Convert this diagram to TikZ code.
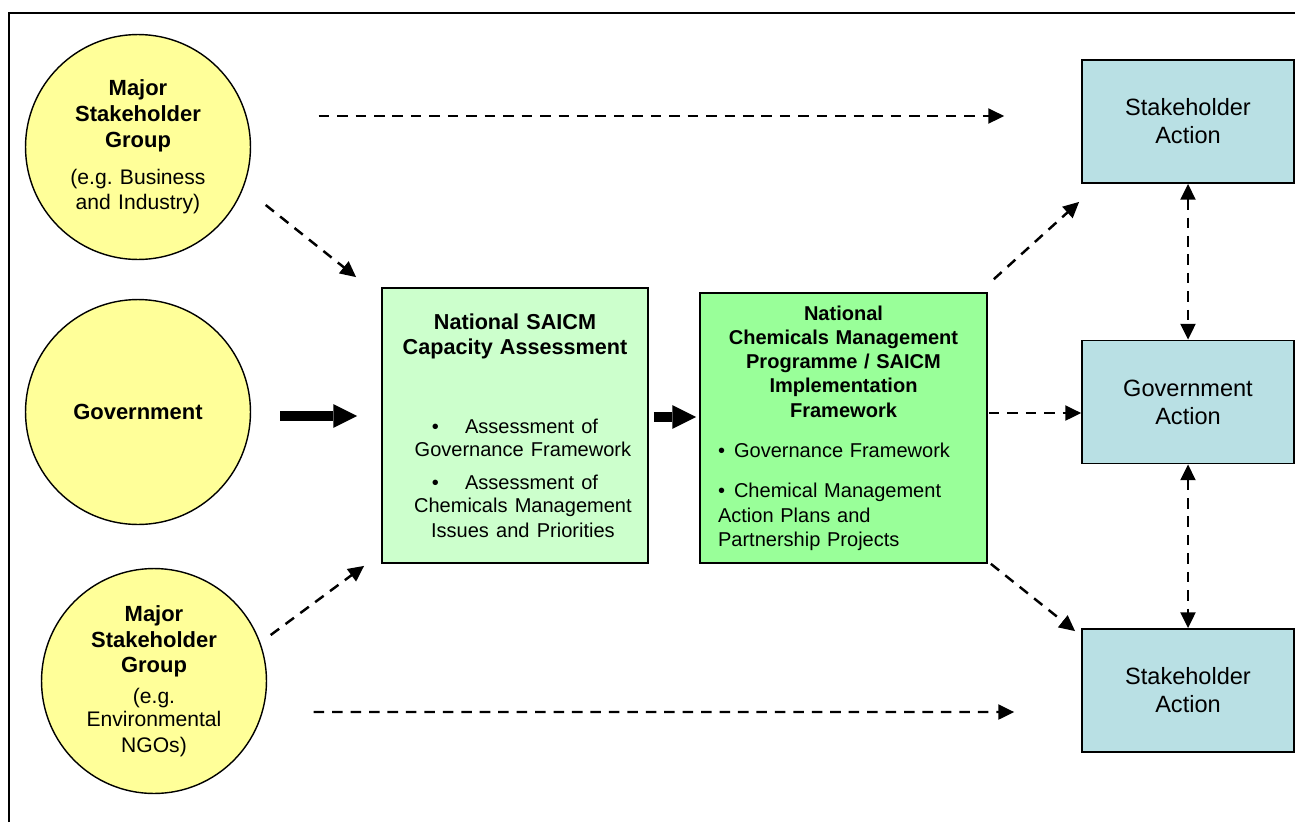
\documentclass[tikz,border=0pt]{standalone}
\usepackage{fontspec}
\setmainfont{Liberation Sans}
\usetikzlibrary{arrows.meta,calc}
\frenchspacing

\definecolor{grpyellow}{HTML}{FFFF99}
\definecolor{assessgreen}{HTML}{CCFFCC}
\definecolor{proggreen}{HTML}{99FF99}
\definecolor{actblue}{RGB}{185,224,228}

\begin{document}
\begin{tikzpicture}[
  x=0.02cm, y=-0.02cm,
  grp/.style={draw, circle, fill=grpyellow, line width=0.8pt, minimum size=4.5cm, inner sep=0pt,
    text width=2.9cm, align=center, font={\fontsize{12.5}{14.7}\selectfont\bfseries}},
  assess/.style={draw, fill=assessgreen, line width=1pt, minimum width=5.32cm, minimum height=5.5cm,
    text width=5cm, align=center, font={\fontsize{12.3}{14.2}\selectfont\bfseries}},
  prog/.style={draw, fill=proggreen, line width=1pt, minimum width=5.74cm, minimum height=5.4cm,
    inner xsep=0.36cm, text width=5.02cm, align=left, font={\fontsize{11.4}{13.8}\selectfont}},
  act/.style={draw, fill=actblue, line width=1pt, minimum width=4.24cm, minimum height=2.46cm,
    align=center, font={\fontsize{13.4}{16}\selectfont}},
  dasharrow/.style={line width=1.4pt, dash pattern=on 6pt off 4.5pt, -{Triangle[length=9pt,width=8.5pt]}},
  twoway/.style={dasharrow, {Triangle[length=9pt,width=8.5pt]}-{Triangle[length=9pt,width=8.5pt]}},
  bigarrow/.style={line width=5.2pt, -{Triangle[length=13.5pt,width=13.5pt,line width=0pt]}}
]
\useasboundingbox (0,0) rectangle (1295,822);
\draw[line width=0.8pt] (9,822) |- (1295,13);

% groups on the left
\node[grp] (msgA) at (138,147) {Major\\Stakeholder\\Group\\[8pt]\mdseries\fontsize{12}{13}\selectfont (e.g. Business\\and Industry)};
\node[grp] (gov) at (138,412) {Government};
\node[grp] (msgB) at (154,681) {Major\\Stakeholder\\Group\\[4.5pt]\mdseries\fontsize{12}{13}\selectfont (e.g.\\Environmental\\NGOs)};

% assessment and programme
\node[assess] (nsca) at (515,425.5) {National SAICM\\Capacity Assessment\\[32pt]\mdseries\fontsize{11.4}{13}\selectfont
  \textbullet\hspace{1.3em}Assessment of\hspace*{14.7pt}\\\hspace*{9pt}Governance Framework\\[6pt]
  \textbullet\hspace{1.3em}Assessment of\hspace*{14.7pt}\\\hspace*{9pt}Chemicals Management\\\hspace*{9pt}Issues and Priorities};
\node[prog] (ncmp) at (843.5,428) {{\centering\bfseries National\\Chemicals Management\\Programme / SAICM\\Implementation\\Framework\par}
  \vspace{10pt}\fontsize{11.4}{13.2}\selectfont\hangindent=0.8em\textbullet\hspace{0.45em}Governance Framework\par
  \vspace{9pt}\hangindent=0.8em\textbullet\hspace{0.45em}Chemical Management\newline Action Plans and\newline Partnership Projects};

% actions on the right
\node[act] (actA) at (1188,121.5) {Stakeholder\\Action};
\node[act] (govact) at (1188,402) {Government\\Action};
\node[act] (actB) at (1188,690.5) {Stakeholder\\Action};

\draw[dasharrow] ($(msgA.east)+(67.5,-31)$) -- ($(actA.west)+(-77,-5.5)$);
\draw[dasharrow] ($(msgA.east)+(14.5,58)$) -- ($(nsca.north west)+(-25,-10)$);
\draw[bigarrow] ($(gov.east)+(29,4)$) -- ($(nsca.west)+(-24,-9.5)$);
\draw[dasharrow] ($(msgB.east)+(3.5,-46)$) -- ($(nsca.south west)+(-17,2)$);
\draw[dasharrow] ($(msgB.east)+(46.5,31)$) -- ($(actB.west)+(-67,21.5)$);
\draw[bigarrow] ($(nsca.east)+(5,-8.5)$) -- ($(ncmp.west)+(-3,-11)$);
\draw[dasharrow] ($(ncmp.north east)+(6,-13)$) -- ($(actA.south west)+(-2,18)$);
\draw[dasharrow] ($(ncmp.east)+(1,-15)$) -- ($(govact.west)+(0,11)$);
\draw[dasharrow] ($(ncmp.south east)+(3,0)$) -- ($(actB.north west)+(-6,3)$);
\draw[twoway] (actA.south) -- (govact.north);
\draw[twoway] (govact.south) -- (actB.north);
\end{tikzpicture}
\end{document}
